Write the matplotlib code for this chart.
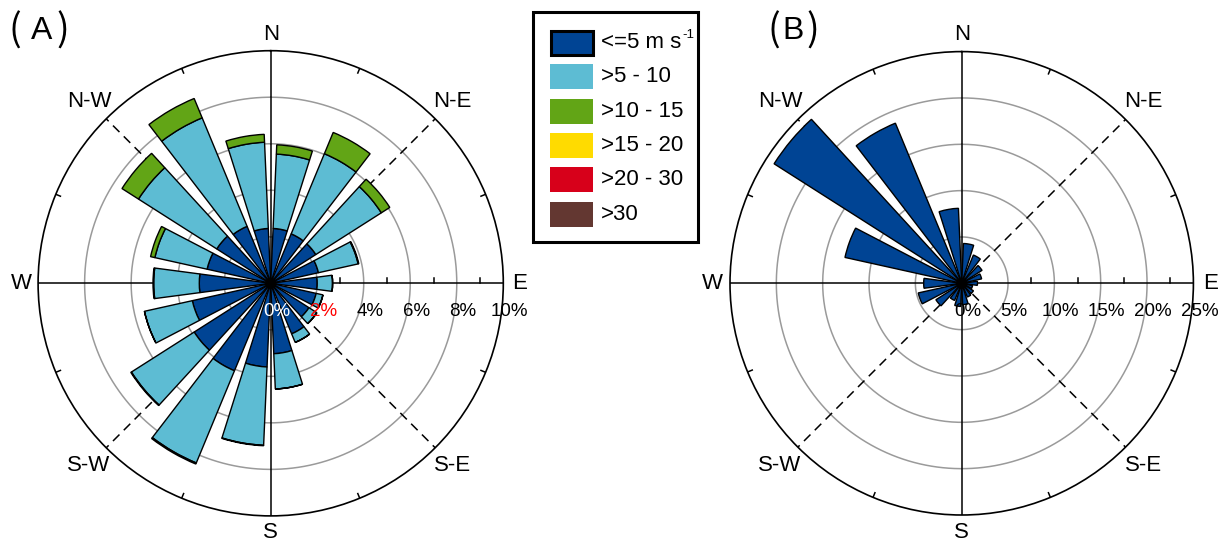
import numpy as np
import matplotlib.pyplot as plt
from matplotlib.patches import Rectangle

plt.rcParams['font.family'] = ['Liberation Sans', 'Noto Sans CJK SC', 'DejaVu Sans']

# 18 sectors, 20 deg each, centred on 10, 30, ... 350 deg
bearings = np.arange(10, 360, 20)

# panel A, frequency (%) per speed class
a_le5 = [2.36, 2.30, 2.30, 2.10, 2.00, 2.00, 1.95, 2.35, 3.03,
         3.60, 4.07, 3.90, 3.45, 3.07, 2.80, 2.75, 2.65, 2.36]
a_5_10 = [3.20, 3.73, 3.34, 1.75, 0.66, 0.30, 0.40, 0.40, 1.52,
          3.37, 4.29, 3.20, 2.11, 1.96, 2.30, 3.99, 5.05, 3.71]
a_10_15 = [0.40, 0.99, 0.43, 0.03, 0.00, 0.00, 0.00, 0.00, 0.00,
           0.02, 0.05, 0.03, 0.00, 0.03, 0.19, 0.84, 0.90, 0.34]

# panel B, only the lowest class
b_le5 = [4.3, 3.3, 2.6, 2.2, 1.7, 1.2, 1.5, 1.6, 2.3,
         2.5, 2.0, 3.3, 4.8, 4.1, 12.9, 24.0, 18.7, 8.1]

a_rings = [2, 4, 6, 8, 10]
b_rings = [5, 10, 15, 20, 25]

class_labels = ['<=5 m s', '>5 - 10', '>10 - 15', '>15 - 20', '>20 - 30', '>30']
class_colors = ['#004494', '#5dbcd3', '#62a516', '#ffdb00', '#d7001a', '#633731']

dir_names = ['N', 'N-E', 'E', 'S-E', 'S', 'S-W', 'W', 'N-W']

W, H = 1224, 543
fig = plt.figure(figsize=(W / 100, H / 100), dpi=100)


def make_axes(cx, cy, rad):
    return fig.add_axes([(cx - rad) / W, 1 - (cy + rad) / H, 2 * rad / W, 2 * rad / H],
                        projection='polar')


def rose(ax, rings, rad_px, labcolors):
    rmax = rings[-1]
    px = rmax / rad_px          # data units per pixel
    ax.set_theta_zero_location('N')
    ax.set_theta_direction(-1)
    ax.set_ylim(0, rmax)
    ax.set_xticks([])
    ax.set_yticks([])
    ax.grid(False)
    ax.spines['polar'].set_linewidth(1.2)

    t = np.linspace(0, 2 * np.pi, 400)
    for r in rings[:-1]:
        ax.plot(t, np.full_like(t, r), color='#9a9a9a', lw=1.1, zorder=1)
    for b in [0, 90, 180, 270]:
        ax.plot([np.deg2rad(b)] * 2, [0, rmax], color='black', lw=1.1, zorder=1)
    for b in [45, 135, 225, 315]:
        ax.plot([np.deg2rad(b)] * 2, [0, rmax], color='black', lw=1.1,
                ls=(0, (6, 4)), zorder=1)
    # small inward ticks on outer circle
    for b in np.arange(22.5, 360, 45):
        ax.plot([np.deg2rad(b)] * 2, [rmax - 5 * px, rmax], color='black', lw=1.1, zorder=1)
    # upward ticks on the east axis between the rings
    step = rings[1] - rings[0]
    for r0 in np.arange(step / 2 + step, rmax, step):
        dy = 5 * px
        ax.plot([np.pi / 2, np.pi / 2 - np.arctan2(dy, r0)], [r0, np.hypot(r0, dy)],
                color='black', lw=1.1, zorder=1)
    # radial labels
    for r, c in zip([0] + rings, labcolors):
        ax.annotate('%d%%' % r, xy=(np.pi / 2, r), xytext=(4.3, -20.5),
                    textcoords='offset points', ha='center', va='center',
                    fontsize=13.5, color=c, zorder=6, annotation_clip=False)
    # direction labels
    for i, name in enumerate(dir_names):
        b = i * 45
        rr = (249 if b % 90 == 0 else 257) * px
        ax.text(np.deg2rad(b), rr, name, ha='center', va='center', fontsize=16,
                clip_on=False)
    ax.scatter([0], [0], s=30, color='black', zorder=5)


width = np.deg2rad(15)
theta = np.deg2rad(bearings)

axA = make_axes(270.7, 283.3, 232.6)
rose(axA, a_rings, 232.6, ['white', 'red', 'black', 'black', 'black', 'black'])
bottom = np.zeros(len(bearings))
for vals, col in zip([a_le5, a_5_10, a_10_15], class_colors):
    vals = np.array(vals)
    axA.bar(theta, vals, width=width, bottom=bottom, color=col, edgecolor='black',
            linewidth=1.0, zorder=3)
    bottom = bottom + vals

axB = make_axes(961.7, 283.3, 231.7)
rose(axB, b_rings, 231.7, ['black'] * 6)
axB.bar(theta, b_le5, width=width, color=class_colors[0], edgecolor='black',
        linewidth=1.0, zorder=3)

# panel tags, thin tall brackets like the original
for x0, x1, x2, tag in [(15, 42, 63, 'A'), (774, 793, 813, 'B')]:
    fig.text(x0 / W, 1 - 31 / H, '(', fontsize=27, va='center', ha='center',
             family='Noto Sans CJK SC', fontweight='light')
    fig.text(x1 / W, 1 - 31 / H, tag, fontsize=23, va='center', ha='center')
    fig.text(x2 / W, 1 - 31 / H, ')', fontsize=27, va='center', ha='center',
             family='Noto Sans CJK SC', fontweight='light')

# legend box drawn in pixel coordinates
lg = fig.add_axes([0, 0, 1, 1], facecolor='none')
lg.set_xlim(0, W)
lg.set_ylim(H, 0)
lg.axis('off')
lg.add_patch(Rectangle((533, 12), 165, 230, fill=False, edgecolor='black', lw=2.2))
for i, (lab, col) in enumerate(zip(class_labels, class_colors)):
    yc = 42.5 + i * 34.3
    if i == 0:
        lg.add_patch(Rectangle((551, yc - 12), 42, 24, facecolor=col, edgecolor='black', lw=2.2))
    else:
        lg.add_patch(Rectangle((550, yc - 12.5), 43, 25, facecolor=col, edgecolor='none'))
    lg.text(601, yc, lab, fontsize=16, va='center', ha='left')
# unit exponent of the first class
lg.text(682, 35, '-1', fontsize=9.5, va='center', ha='left')

fig.savefig('out.png', dpi=100)
